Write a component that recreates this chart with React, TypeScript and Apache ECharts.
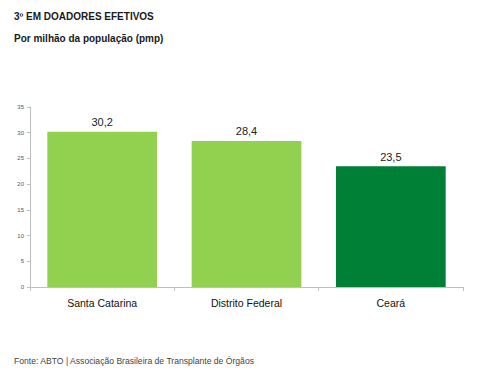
import React, { useEffect, useRef } from "react";
import * as echarts from "echarts";

const categories = ["Santa Catarina", "Distrito Federal", "Ceará"];
const values = [30.2, 28.4, 23.5];
const barColors = ["#92d050", "#92d050", "#007f37"];
const yTicks = [0, 5, 10, 15, 20, 25, 30, 35];

export default function App() {
  const ref = useRef<HTMLDivElement>(null);
  useEffect(() => {
    const chart = echarts.init(ref.current!, null, { renderer: "svg" });
    chart.setOption({
      animation: false,
      backgroundColor: "#ffffff",
      textStyle: { fontFamily: "Liberation Sans, Arial, sans-serif" },
      title: [
        {
          text: "3º EM DOADORES EFETIVOS",
          left: 9,
          top: 6,
          textStyle: { fontSize: 10, fontWeight: "bold", color: "#1a1a1a", fontFamily: "Liberation Sans" },
        },
        {
          text: "Por milhão da população (pmp)",
          left: 9,
          top: 28,
          textStyle: { fontSize: 10, fontWeight: "bold", color: "#1a1a1a", fontFamily: "Liberation Sans" },
        },
        {
          text: "Fonte: ABTO | Associação Brasileira de Transplante de Órgãos",
          left: 9,
          top: 351,
          textStyle: { fontSize: 8.6, fontWeight: "normal", color: "#444", fontFamily: "Liberation Sans" },
        },
      ],
      grid: { left: 30, right: 37, top: 107, bottom: 85 },
      xAxis: {
        type: "category",
        data: categories,
        axisLine: { lineStyle: { color: "#bfbfbf" } },
        axisTick: { show: true, length: 4, lineStyle: { color: "#bfbfbf" } },
        axisLabel: { color: "#111", fontSize: 10.5, margin: 10, fontFamily: "Liberation Sans" },
      },
      yAxis: {
        type: "value",
        min: yTicks[0],
        max: yTicks[yTicks.length - 1],
        interval: 5,
        splitLine: { show: false },
        axisLine: { show: true, lineStyle: { color: "#bfbfbf" } },
        axisTick: { show: true, length: 3, lineStyle: { color: "#bfbfbf" } },
        axisLabel: { color: "#555", fontSize: 6, margin: 6, fontFamily: "Liberation Sans" },
      },
      series: [
        {
          type: "bar",
          barWidth: "76%",
          data: values.map((v, i) => ({ value: v, itemStyle: { color: barColors[i] } })),
          label: {
            show: true,
            position: "top",
            distance: 4,
            color: "#222",
            fontSize: 11,
            fontFamily: "Liberation Sans",
            formatter: (p: any) => String(p.value).replace(".", ","),
          },
        },
      ],
    });
    return () => chart.dispose();
  }, []);
  return (
    <div
      ref={ref}
      style={{ position: "fixed", left: 0, top: 0, width: 500, height: 372 }}
    />
  );
}
